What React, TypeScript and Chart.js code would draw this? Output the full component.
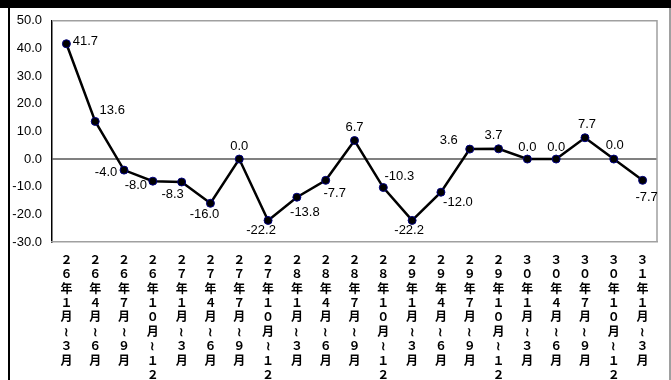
import React, { useEffect, useRef } from "react";
import { Chart, registerables } from "chart.js";

Chart.register(...registerables);

const categories: string[][] = [
  ["２", "６", "年", "１", "月", "≀", "３", "月"],
  ["２", "６", "年", "４", "月", "≀", "６", "月"],
  ["２", "６", "年", "７", "月", "≀", "９", "月"],
  ["２", "６", "年", "１", "０", "月", "≀", "１", "２"],
  ["２", "７", "年", "１", "月", "≀", "３", "月"],
  ["２", "７", "年", "４", "月", "≀", "６", "月"],
  ["２", "７", "年", "７", "月", "≀", "９", "月"],
  ["２", "７", "年", "１", "０", "月", "≀", "１", "２"],
  ["２", "８", "年", "１", "月", "≀", "３", "月"],
  ["２", "８", "年", "４", "月", "≀", "６", "月"],
  ["２", "８", "年", "７", "月", "≀", "９", "月"],
  ["２", "８", "年", "１", "０", "月", "≀", "１", "２"],
  ["２", "９", "年", "１", "月", "≀", "３", "月"],
  ["２", "９", "年", "４", "月", "≀", "６", "月"],
  ["２", "９", "年", "７", "月", "≀", "９", "月"],
  ["２", "９", "年", "１", "０", "月", "≀", "１", "２"],
  ["３", "０", "年", "１", "月", "≀", "３", "月"],
  ["３", "０", "年", "４", "月", "≀", "６", "月"],
  ["３", "０", "年", "７", "月", "≀", "９", "月"],
  ["３", "０", "年", "１", "０", "月", "≀", "１", "２"],
  ["３", "１", "年", "１", "月", "≀", "３", "月"],
];

const values: number[] = [
  41.7, 13.6, -4.0, -8.0, -8.3, -16.0, 0.0, -22.2, -13.8, -7.7, 6.7,
  -10.3, -22.2, -12.0, 3.6, 3.7, 0.0, 0.0, 7.7, 0.0, -7.7,
];

const yMin = -30;
const yMax = 50;
const yStep = 10;

// label placement relative to each point (px): [dx, dy]
const labelOffsets: [number, number][] = [
  [19, -2], [17, -11], [-18, 2], [-17, 4], [-9, 12], [-6, 11], [0, -13],
  [-7, 10], [8, 15], [9, 13], [0, -13], [16, -11], [-3, 10], [17, 10],
  [-21, -9], [-5, -13], [0, -12], [0, -12], [2, -13], [1, -14], [4, 17],
];

const valueLabelsPlugin = {
  id: "valueLabels",
  afterDatasetsDraw(chart: any) {
    const ctx = chart.ctx;
    const meta = chart.getDatasetMeta(0);
    ctx.save();
    ctx.fillStyle = "#000";
    ctx.font = "13px 'Liberation Sans', Arial, sans-serif";
    ctx.textAlign = "center";
    ctx.textBaseline = "middle";
    meta.data.forEach((pt: any, i: number) => {
      const v = values[i];
      const [dx, dy] = labelOffsets[i];
      ctx.fillText(v.toFixed(1), pt.x + dx, pt.y + dy);
    });
    ctx.restore();
  },
};

const framePlugin = {
  id: "frame",
  beforeDatasetsDraw(chart: any) {
    const { ctx, chartArea } = chart;
    ctx.save();
    ctx.strokeStyle = "#a0a0a0";
    ctx.lineWidth = 1.5;
    ctx.beginPath();
    ctx.moveTo(chartArea.left, chartArea.top);
    ctx.lineTo(chartArea.right, chartArea.top);
    ctx.lineTo(chartArea.right, chartArea.bottom);
    ctx.stroke();
    ctx.restore();
  },
};

export default function App() {
  const ref = useRef<HTMLCanvasElement>(null);

  useEffect(() => {
    if (!ref.current) return;
    const chart = new Chart(ref.current, {
      type: "line",
      data: {
        labels: categories,
        datasets: [
          {
            data: values,
            borderColor: "#000",
            borderWidth: 2.5,
            pointRadius: 4,
            pointBackgroundColor: "#000",
            pointBorderColor: "#000080",
            pointBorderWidth: 1,
            tension: 0,
          },
        ],
      },
      options: {
        responsive: false,
        animation: false,
        devicePixelRatio: 1,
        layout: { padding: { top: 0, right: 11, left: 0, bottom: 0 } },
        plugins: {
          legend: { display: false },
          tooltip: { enabled: false },
        },
        scales: {
          y: {
            min: yMin,
            max: yMax,
            afterFit: (s: any) => {
              s.width = 42;
            },
            ticks: {
              stepSize: yStep,
              padding: 10,
              color: "#000",
              font: { family: "'Liberation Sans', Arial, sans-serif", size: 13 },
              callback: (v: any) => Number(v).toFixed(1),
            },
            grid: {
              drawTicks: false,
              color: (c: any) => (c.tick && c.tick.value === 0 ? "#808080" : "rgba(0,0,0,0)"),
              lineWidth: 2,
            },
            border: { display: true, color: "#000", width: 1.5 },
          },
          x: {
            offset: true,
            afterFit: (s: any) => {
              s.height = 138;
            },
            ticks: {
              autoSkip: false,
              maxRotation: 0,
              minRotation: 0,
              padding: 10,
              color: "#000",
              font: {
                family: "'Noto Sans CJK JP', sans-serif",
                size: 12,
                weight: "bold",
                lineHeight: 1.2,
              },
            },
            grid: { display: false, drawTicks: false, offset: true },
            border: { display: true, color: "#a0a0a0", width: 1.5 },
          },
        },
      },
      plugins: [framePlugin, valueLabelsPlugin],
    });
    return () => chart.destroy();
  }, []);

  return (
    <div
      style={{
        position: "fixed",
        left: 0,
        top: 0,
        width: 671,
        height: 380,
        overflow: "hidden",
        background: "#fff",
      }}
    >
      <canvas
        ref={ref}
        width={658}
        height={377}
        style={{ position: "absolute", left: 10, top: 3, width: 658, height: 377 }}
      />
      <div style={{ position: "absolute", left: 0, top: 0, width: 671, height: 8, background: "#000", zIndex: 2 }} />
      <div style={{ position: "absolute", left: 8, top: 8, width: 2, height: 372, background: "#000", zIndex: 2 }} />
      <div style={{ position: "absolute", left: 669, top: 8, width: 2, height: 372, background: "#a0a0a0", zIndex: 2 }} />
    </div>
  );
}
